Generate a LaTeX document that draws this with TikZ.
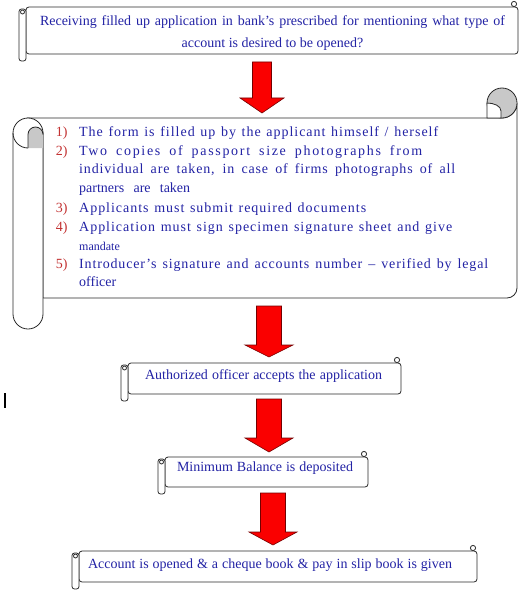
\documentclass[tikz,border=0pt]{standalone}
\usepackage{fontspec}
\setmainfont{Liberation Serif}
\definecolor{txtblue}{RGB}{35,35,165}
\definecolor{numred}{RGB}{195,50,50}
\definecolor{arrowred}{RGB}{250,0,0}
\definecolor{curlgrey}{RGB}{200,200,200}
\definecolor{outline}{RGB}{40,40,40}
\tikzset{
  outl/.style={draw=outline, line width=0.8pt},
  scrollbody/.style={outl, fill=white, rounded corners=3pt, inner sep=0pt},
  scrolltext/.style={text=txtblue, font=\fontsize{14}{22}\selectfont, inner sep=0pt, align=center},
  listline/.style={text=txtblue, font=\fontsize{14}{17}\selectfont, inner sep=0pt, anchor=base west},
  listnum/.style={text=numred, font=\fontsize{14}{17}\selectfont, inner sep=0pt, anchor=base west},
  blockarrow/.style={fill=arrowred, draw=red!45!black, line width=0.6pt, line join=miter},
}
% tube and curl of a horizontal scroll whose body spans (x1,y1)-(x2,y2)
\newcommand\tubescroll[4]{%
  \draw[outl, fill=white, rounded corners=2.5pt] ({#1-7},{#2+2}) rectangle (#1,{#4+7});
  \draw[outl, fill=white] ({#1-3.5},{#2+5}) circle (2);
  \draw[outl, fill=white] ({#3-4},{#2-3}) circle (2.6);
}
% block arrow: centre x, shaft half width, top, head half width, head y, tip y
\newcommand\blockarr[6]{%
  \draw[blockarrow] ({#1-#2},#3) -- ({#1+#2},#3) -- ({#1+#2},#5) -- ({#1+#4},#5)
    -- (#1,#6) -- ({#1-#4},#5) -- ({#1-#2},#5) -- cycle;
}
\begin{document}
\begin{tikzpicture}[x=1pt,y=-1pt]
\useasboundingbox (0,0) rectangle (529,591);

% ---------- scroll 1 ----------
\node[scrollbody, minimum width=492pt, minimum height=47pt] (b1) at (272,30.5) {};
\tubescroll{26}{7}{518}{54}
\node[scrolltext] (t1) at (272.5,33) {\makebox[465pt][s]{Receiving filled up application in bank’s prescribed for mentioning what type of}\\account is desired to be opened?};

% ---------- arrow 1 ----------
\blockarr{262}{9.5}{62}{22}{98}{113}

% ---------- scroll 2 (vertical) ----------
\draw[outl, fill=white] (28,118) -- (502,118) arc[start angle=90, end angle=0, radius=15]
  -- (517,288) arc[start angle=0, end angle=90, radius=10] -- (43,298) -- (43,133) -- cycle;
\coordinate (b2) at (280,208);
% top right curl
\draw[outl, fill=curlgrey] (502,103) circle (15);
\draw[outl, fill=white] (487,103) -- (487,118) -- (501,118) -- (501,111)
  .. controls (501,106) and (494,103) .. (487,103);
% left tube
\draw[outl, fill=white] (28,118) arc[start angle=270, end angle=180, radius=15]
  -- (13,314) arc[start angle=180, end angle=0, radius=15]
  -- (43,133) arc[start angle=0, end angle=-90, radius=15];
\draw[outl] (13,133) arc[start angle=180, end angle=90, radius=15];
\fill[curlgrey] (28,148) -- (28,134.5) arc[start angle=180, end angle=360, radius=7.5] -- (43,148) -- cycle;
\draw[outl] (28,148) -- (28,134.5) arc[start angle=180, end angle=360, radius=7.5];

% list
\node[listnum] (n1) at (55.6,136) {1)};
\node[listline] (l1) at (79,136) {\makebox[359pt][s]{\addfontfeature{LetterSpace=7}The form is filled up by the applicant himself / herself}};
\node[listnum] (n2) at (55.6,155) {2)};
\node[listline] (l2) at (79,155) {\makebox[343pt][s]{\addfontfeature{LetterSpace=12}Two copies of passport size photographs from}};
\node[listline] (l3) at (79,173) {\makebox[376pt][s]{\addfontfeature{LetterSpace=6}individual are taken, in case of firms photographs of all}};
\node[listline] (l4) at (79,192) {\makebox[111pt][s]{partners are taken}};
\node[listnum] (n3) at (55.6,212) {3)};
\node[listline] (l5) at (79,212) {\makebox[287pt][s]{\addfontfeature{LetterSpace=7}Applicants must submit required documents}};
\node[listnum] (n4) at (55.6,231) {4)};
\node[listline] (l6) at (79,231) {\makebox[373pt][s]{\addfontfeature{LetterSpace=7}Application must sign specimen signature sheet and give}};
\node[listline, font=\fontsize{12}{14}\selectfont] (l7) at (79,250) {mandate};
\node[listnum] (n5) at (55.6,268) {5)};
\node[listline] (l8) at (79,268) {\makebox[409pt][s]{\addfontfeature{LetterSpace=6}Introducer’s signature and accounts number – verified by legal}};
\node[listline] (l9) at (79,286) {officer};

% ---------- arrow 2 ----------
\blockarr{269}{12.5}{306}{24}{345}{357}

% ---------- scroll 3 ----------
\node[scrollbody, minimum width=273pt, minimum height=31pt] (b3) at (264.5,378.5) {};
\tubescroll{128}{363}{401}{394}
\node[scrolltext, anchor=base] (t3) at (263.5,379) {\makebox[237pt][s]{Authorized officer accepts the application}};

% ---------- arrow 3 ----------
\blockarr{269}{12.5}{399}{24}{438}{452}

% ---------- scroll 4 ----------
\node[scrollbody, minimum width=203pt, minimum height=30pt] (b4) at (266.5,472) {};
\tubescroll{165}{457}{368}{487}
\node[scrolltext, anchor=base] (t4) at (265,471) {\makebox[176pt][s]{Minimum Balance is deposited}};

% ---------- arrow 4 ----------
\blockarr{273}{12.5}{493}{24}{532}{545}

% ---------- scroll 5 ----------
\node[scrollbody, minimum width=398pt, minimum height=31pt] (b5) at (278,566.5) {};
\tubescroll{79}{551}{477}{582}
\node[scrolltext, anchor=base] (t5) at (270,568) {\makebox[364pt][s]{Account is opened \& a cheque book \& pay in slip book is given}};

% text cursor
\draw[line width=1.5pt] (5,393) -- (5,408);
\end{tikzpicture}
\end{document}
